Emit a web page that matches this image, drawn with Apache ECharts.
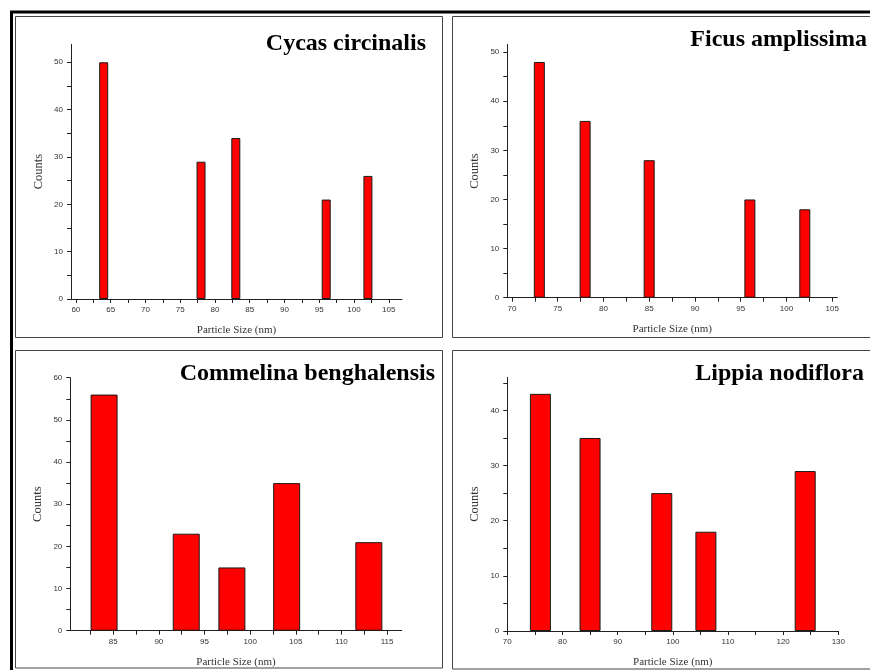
<!DOCTYPE html>
<html><head><meta charset="utf-8">
<script src="https://cdn.jsdelivr.net/npm/echarts@6/dist/echarts.min.js"></script>
<style>html,body{margin:0;padding:0;background:#fff}#c{width:870px;height:670px}</style>
</head><body><div id="c"></div>
<script>
// ---- data ----
const titles = ['Cycas circinalis', 'Ficus amplissima', 'Commelina benghalensis', 'Lippia nodiflora'];
const xAxisName = 'Particle Size (nm)';
const yAxisName = 'Counts';

const cycasSize = [64, 78, 83, 96, 102];
const cycasCounts = [50, 29, 34, 21, 26];
const ficusSize = [73, 78, 85, 96, 102];
const ficusCounts = [48, 36, 28, 20, 18];
const commelinaSize = [84, 93, 98, 104, 113];
const commelinaCounts = [56, 23, 15, 35, 21];
const lippiaSize = [76, 85, 98, 106, 124];
const lippiaCounts = [43, 35, 25, 18, 29];

const xLabels1 = [60, 65, 70, 75, 80, 85, 90, 95, 100, 105];
const xMinor1 = [62.5, 67.5, 72.5, 77.5, 82.5, 87.5, 92.5, 97.5, 102.5];
const xLabels2 = [70, 75, 80, 85, 90, 95, 100, 105];
const xMinor2 = [72.5, 77.5, 82.5, 87.5, 92.5, 97.5, 102.5];
const xLabels3 = [85, 90, 95, 100, 105, 110, 115];
const xMinor3 = [82.5, 87.5, 92.5, 97.5, 102.5, 107.5, 112.5];
const xLabels4 = [70, 80, 90, 100, 110, 120, 130];
const xMinor4 = [75, 85, 95, 105, 115, 125];

const yLabels1 = [0, 10, 20, 30, 40, 50];
const yMinor1 = [5, 15, 25, 35, 45];
const yLabels3 = [0, 10, 20, 30, 40, 50, 60];
const yMinor3 = [5, 15, 25, 35, 45, 55];
const yLabels4 = [0, 10, 20, 30, 40];
const yMinor4 = [5, 15, 25, 35, 45];

// ---- layout ----
const panels = [
  { size: cycasSize, counts: cycasCounts, xl: xLabels1, xm: xMinor1, yl: yLabels1, ym: yMinor1,
    xmin: 59.3, xmax: 106.9, ymax: 53.8, grid: { left: 71, top: 44.3, width: 331, height: 254.7 }, bw: 9,
    title: { x: 426, y: 44 } },
  { size: ficusSize, counts: ficusCounts, xl: xLabels2, xm: xMinor2, yl: yLabels1, ym: yMinor1,
    xmin: 69.5, xmax: 105.55, ymax: 51.6, grid: { left: 507.3, top: 44.3, width: 330, height: 253.4 }, bw: 11,
    title: { x: 867, y: 40 } },
  { size: commelinaSize, counts: commelinaCounts, xl: xLabels3, xm: xMinor3, yl: yLabels3, ym: yMinor3,
    xmin: 80.3, xmax: 116.6, ymax: 60, grid: { left: 70.3, top: 377.7, width: 331.4, height: 253 }, bw: 27,
    title: { x: 435, y: 374 } },
  { size: lippiaSize, counts: lippiaCounts, xl: xLabels4, xm: xMinor4, yl: yLabels4, ym: yMinor4,
    xmin: 70, xmax: 130, ymax: 46, grid: { left: 507.3, top: 377.3, width: 331, height: 253.7 }, bw: 21,
    title: { x: 864, y: 374 } }
];

const axisColor = '#222';
const labelFont = { fontFamily: 'Liberation Sans', fontSize: 8, color: '#333' };
const xNameFont = { fontFamily: 'Liberation Serif', fontSize: 11, color: '#333' };
const yNameFont = { fontFamily: 'Liberation Serif', fontSize: 12.5, color: '#333' };

const option = {
  backgroundColor: '#fff',
  animation: false,
  grid: [], xAxis: [], yAxis: [], series: [],
  graphic: [
    { type: 'rect', shape: { x: 11.5, y: 12, width: 900, height: 700 }, style: { fill: null, stroke: '#000', lineWidth: 3 }, silent: true },
    { type: 'rect', shape: { x: 15.5, y: 16.5, width: 427, height: 321 }, style: { fill: null, stroke: '#444', lineWidth: 1 }, silent: true },
    { type: 'rect', shape: { x: 452.5, y: 16.5, width: 440, height: 321 }, style: { fill: null, stroke: '#444', lineWidth: 1 }, silent: true },
    { type: 'rect', shape: { x: 15.5, y: 350.5, width: 427, height: 317.5 }, style: { fill: null, stroke: '#444', lineWidth: 1 }, silent: true },
    { type: 'rect', shape: { x: 452.5, y: 350.5, width: 440, height: 318.5 }, style: { fill: null, stroke: '#444', lineWidth: 1 }, silent: true }
  ]
};

panels.forEach((p, i) => {
  option.grid.push(Object.assign({ containLabel: false }, p.grid));
  option.xAxis.push({
    type: 'value', gridIndex: i, min: p.xmin, max: p.xmax,
    name: xAxisName, nameLocation: 'middle', nameGap: 26, nameTextStyle: xNameFont,
    axisLine: { show: true, onZero: false, lineStyle: { color: axisColor, width: 1 } },
    axisTick: { show: true, inside: false, length: 4, lineStyle: { color: axisColor }, customValues: p.xl.concat(p.xm) },
    axisLabel: Object.assign({ margin: 7, customValues: p.xl }, labelFont),
    splitLine: { show: false }
  });
  option.yAxis.push({
    type: 'value', gridIndex: i, min: 0, max: p.ymax,
    name: yAxisName, nameLocation: 'middle', nameGap: 26, nameTextStyle: yNameFont,
    axisLine: { show: true, onZero: false, lineStyle: { color: axisColor, width: 1 } },
    axisTick: { show: true, inside: false, length: 4, lineStyle: { color: axisColor }, customValues: p.yl.concat(p.ym) },
    axisLabel: Object.assign({ margin: 8, customValues: p.yl }, labelFont),
    splitLine: { show: false }
  });
  option.series.push({
    type: 'bar', xAxisIndex: i, yAxisIndex: i, barWidth: p.bw,
    data: p.size.map((s, k) => [s, p.counts[k]]),
    itemStyle: { color: '#ff0000', borderColor: '#1a1a1a', borderWidth: 1 }
  });
  option.graphic.push({
    type: 'text', x: p.title.x, y: p.title.y, silent: true,
    style: { text: titles[i], fontFamily: 'Liberation Serif', fontWeight: 'bold', fontSize: 24, fill: '#000', align: 'right', verticalAlign: 'middle' }
  });
});

const chart = echarts.init(document.getElementById('c'), null, { renderer: 'canvas' });
chart.setOption(option);
</script></body></html>
